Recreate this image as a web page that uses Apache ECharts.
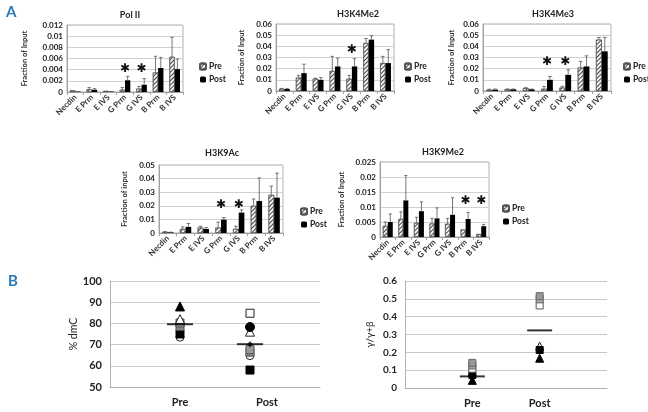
<!DOCTYPE html>
<html><head><meta charset="utf-8">
<script src="https://cdn.jsdelivr.net/npm/echarts@6/dist/echarts.min.js"></script>
<style>html,body{margin:0;padding:0;background:#fff}#c{width:648px;height:412px}</style>
</head><body><div id="c"></div>
<script>
// ---------- DATA ----------
const categories = ['Necdin','E Prm','E IVS','G Prm','G IVS','B Prm','B IVS'];
const panelTitles = ['Pol II','H3K4Me2','H3K4Me3','H3K9Ac','H3K9Me2'];
const yNames = ['Fraction of Input','Fraction of Input','Fraction of Input','Fraction of input','Fraction of Input'];
const yMax = [0.012, 0.06, 0.06, 0.05, 0.025];
const yStep = [0.002, 0.01, 0.01, 0.01, 0.005];

const polPre      = [0.0003,0.0005,0.0002,0.0004,0.0006,0.0035,0.0063];
const polPreErr   = [0,     0.0003,0,     0.0004,0.0004,0.0029,0.0035];
const polPost     = [0.0001,0.0004,0.0001,0.0021,0.0013,0.0043,0.0041];
const polPostErr  = [0,     0.0002,0,     0.0007,0.0011,0.0019,0.0018];
const polStars    = [null,null,null,0.0041,0.0041,null,null];

const k4m2Pre     = [0.002,0.012,0.011,0.018,0.011,0.043,0.025];
const k4m2PreErr  = [0.0003,0.002,0.0005,0.013,0.003,0.004,0.006];
const k4m2Post    = [0.0018,0.016,0.010,0.022,0.022,0.046,0.025];
const k4m2PostErr = [0.0003,0.008,0.002,0.0075,0.007,0.0035,0.012];
const k4m2Stars   = [null,null,null,null,0.037,null,null];

const k4m3Pre     = [0.001,0.0015,0.0025,0.002,0.003,0.021,0.046];
const k4m3PreErr  = [0.0006,0.0004,0.0005,0.002,0.0012,0.0055,0.002];
const k4m3Post    = [0.0012,0.0015,0.0015,0.010,0.0145,0.022,0.0355];
const k4m3PostErr = [0.0006,0.0003,0.0003,0.003,0.0045,0.0095,0.0125];
const k4m3Stars   = [null,null,null,0.026,0.026,null,null];

const k9acPre     = [0.0008,0.003,0.004,0.004,0.003,0.020,0.028];
const k9acPreErr  = [0.0002,0.0015,0.001,0.004,0.002,0.005,0.0065];
const k9acPost    = [0.0005,0.0045,0.003,0.0098,0.015,0.0235,0.026];
const k9acPostErr = [0.0001,0.0025,0.001,0.0015,0.002,0.017,0.018];
const k9acStars   = [null,null,null,0.0205,0.021,null,null];

const k9m2Pre     = [0.0037,0.006,0.0047,0.0045,0.0044,0.0025,0.001];
const k9m2PreErr  = [0.0013,0.0024,0.0019,0.0017,0.0018,0,0];
const k9m2Post    = [0.005,0.0122,0.0086,0.0062,0.0074,0.006,0.0036];
const k9m2PostErr = [0.0027,0.0083,0.0031,0.0035,0.0057,0.0022,0.0006];
const k9m2Stars   = [null,null,null,null,null,0.0121,0.0121];

// Panel B: per-subject values at [Pre, Post]
const groupLabels = ['Pre','Post'];
const dmcFilledTri  = [88, null];
const dmcOpenTri    = [82, 76.1];
const dmcGraySq1    = [80.2, 67.6];
const dmcGraySq2    = [78.6, 66.4];
const dmcFilledSq   = [75, 58];
const dmcOpenCirc   = [73.5, 64.8];
const dmcFilledCirc = [null, 78.3];
const dmcOpenSq     = [null, 84.8];
const dmcMean       = [79.6, 70.2];

const gamGraySq1    = [0.141, 0.515];
const gamGraySq2    = [0.126, 0.497];
const gamOpenSq     = [0.108, 0.463];
const gamOpenTri    = [0.09, 0.235];
const gamFilledSq   = [0.073, 0.213];
const gamFilledTri  = [0.043, 0.167];
const gamMean       = [0.065, 0.323];

// ---------- BUILD ----------
const FONT = 'Lato';
const barSets = [
  [polPre,polPreErr,polPost,polPostErr,polStars],
  [k4m2Pre,k4m2PreErr,k4m2Post,k4m2PostErr,k4m2Stars],
  [k4m3Pre,k4m3PreErr,k4m3Post,k4m3PostErr,k4m3Stars],
  [k9acPre,k9acPreErr,k9acPost,k9acPostErr,k9acStars],
  [k9m2Pre,k9m2PreErr,k9m2Post,k9m2PostErr,k9m2Stars]
];
const barGrids = [
  {left:67, top:25, width:116, height:67},
  {left:276,top:24, width:118, height:67},
  {left:483,top:24, width:128, height:67},
  {left:159,top:165,width:124, height:68},
  {left:380,top:162,width:109, height:75}
];
const yNameGaps = [30, 22, 19, 22, 26];
const legendPos = [[194,57],[399,57],[618,57],[295,202],[497,199]];
const titlePos = [[125,6],[353,5],[548,5],[217,144],[438,143]];

const hatch = {
  symbol:'rect', color:'#444', dashArrayX:[1,0], dashArrayY:[0.9,1.6], rotation:-Math.PI/4
};

const grid=[], xAxis=[], yAxis=[], series=[], legend=[], title=[];

function errSeries(gi, vals, errs, side){
  return {
    type:'custom', name:'err', xAxisIndex:gi, yAxisIndex:gi, z:5, silent:true,
    data: vals.map((v,i)=>[i, v, v+errs[i], errs[i]]),
    renderItem(params, api){
      if (!(api.value(3) > 0)) return null;
      const band = api.size([1,0])[0];
      const x = api.coord([api.value(0), 0])[0] + side*band*0.16;
      const y0 = api.coord([api.value(0), api.value(1)])[1];
      const y1 = api.coord([api.value(0), api.value(2)])[1];
      const cap = band*0.1;
      return {type:'group', children:[
        {type:'line', shape:{x1:x,y1:y0,x2:x,y2:y1}, style:{stroke:'#555',lineWidth:0.8}},
        {type:'line', shape:{x1:x-cap,y1:y1,x2:x+cap,y2:y1}, style:{stroke:'#555',lineWidth:0.8}}
      ]};
    }
  };
}
function starSeries(gi, stars){
  return {
    type:'custom', name:'star', xAxisIndex:gi, yAxisIndex:gi, z:6, silent:true,
    data: stars.map((v,i)=>[i, v]).filter(d=>d[1]!=null),
    renderItem(params, api){
      const p = api.coord([api.value(0), api.value(1)]);
      return {type:'text', x:p[0], y:p[1], style:{text:'✱', fill:'#111', fontSize:12, fontFamily:'DejaVu Sans', align:'center', verticalAlign:'middle'}};
    }
  };
}

barSets.forEach((set, gi)=>{
  grid.push(Object.assign({show:true, borderColor:'#b0b0b0', borderWidth:1, containLabel:false}, barGrids[gi]));
  xAxis.push({
    gridIndex:gi, type:'category', data:categories,
    axisLine:{lineStyle:{color:'#a0a0a0'}},
    axisTick:{show:true, length:3, lineStyle:{color:'#a0a0a0'}},
    axisLabel:{rotate:45, fontSize:8, fontWeight:'bold', color:'#333', fontFamily:FONT, margin:4, interval:0}
  });
  yAxis.push({
    gridIndex:gi, type:'value', min:0, max:yMax[gi], interval:yStep[gi],
    name:yNames[gi], nameLocation:'middle', nameGap:yNameGaps[gi] + 8, nameRotate:90,
    nameTextStyle:{fontSize:7.5, fontWeight:'bold', color:'#333', fontFamily:FONT},
    axisLine:{show:true, lineStyle:{color:'#a0a0a0'}},
    axisTick:{show:false},
    splitLine:{lineStyle:{color:'#d0d0d0', width:1}},
    axisLabel:{fontSize:8, fontWeight:'bold', color:'#222', fontFamily:FONT, margin:4}
  });
  series.push({
    type:'bar', name:'Pre', xAxisIndex:gi, yAxisIndex:gi, data:set[0],
    barGap:'0%', barCategoryGap:'36%',
    itemStyle:{color:'#f4f4f4', borderColor:'#555', borderWidth:0.6, decal:hatch}
  });
  series.push({
    type:'bar', name:'Post', xAxisIndex:gi, yAxisIndex:gi, data:set[2],
    barGap:'0%', barCategoryGap:'36%',
    itemStyle:{color:'#000'}
  });
  series.push(errSeries(gi, set[0], set[1], -1));
  series.push(errSeries(gi, set[2], set[3], 1));
  series.push(starSeries(gi, set[4]));
  legend.push({
    data:['Pre','Post'], orient:'vertical', left:legendPos[gi][0], top:legendPos[gi][1],
    itemWidth:6, itemHeight:6, itemGap:4, selectedMode:false,
    textStyle:{fontSize:8.5, fontWeight:'bold', color:'#222', fontFamily:FONT, padding:[0,0,0,-2]}
  });
  title.push({
    text:panelTitles[gi], left:titlePos[gi][0], top:titlePos[gi][1], textAlign:'center',
    textStyle:{fontSize:9, fontWeight:'bold', color:'#222', fontFamily:FONT}
  });
});

// Panel B grids
const bGrids = [
  {left:110, top:281, width:210, height:106},
  {left:405, top:281, width:202, height:107}
];
const bY = [
  {min:50, max:100, interval:10, name:'% dmC', gap:30, fs:10.5},
  {min:0, max:0.6, interval:0.1, name:'γ/γ+β', gap:30, fs:10}
];
bGrids.forEach((g, k)=>{
  const gi = 5 + k;
  grid.push(Object.assign({show:false}, g));
  xAxis.push({
    gridIndex:gi, type:'value', min:0, max:3, interval:1,
    axisLine:{show:true, lineStyle:{color:'#b0b0b0'}}, axisTick:{show:false}, splitLine:{show:false},
    axisLabel:{
      fontSize:11, fontWeight:'bold', color:'#222', fontFamily:FONT, margin:10,
      formatter:(v)=> v===1 ? groupLabels[0] : (v===2 ? (k===0 ? '{sh|'+groupLabels[1]+'}' : groupLabels[1]) : ''),
      rich:{sh:{fontSize:11, fontWeight:'bold', color:'#222', fontFamily:FONT, padding:[0,0,0,34]}}
    }
  });
  yAxis.push({
    gridIndex:gi, type:'value', min:bY[k].min, max:bY[k].max, interval:bY[k].interval,
    name:bY[k].name, nameLocation:'middle', nameGap:bY[k].gap, nameRotate:90,
    nameTextStyle:{fontSize:bY[k].fs, color:'#222', fontFamily:FONT},
    axisLine:{show:true, lineStyle:{color:'#b0b0b0'}}, axisTick:{show:false},
    splitLine:{lineStyle:{color:'#c8c8c8'}},
    axisLabel:{fontSize:k===0?11:10, fontWeight:'bold', color:'#222', fontFamily:FONT, margin:8}
  });
});

function subj(gi, vals, symbol, size, fill, stroke){
  return {
    type:'scatter', name:'subj', xAxisIndex:gi, yAxisIndex:gi, symbol, symbolSize:size, z:4, silent:true,
    data: vals.map((v,i)=> v==null ? null : [i+1, v]).filter(d=>d),
    itemStyle:{color:fill, borderColor:stroke, borderWidth:1, opacity:1}
  };
}
function meanLine(gi, vals, w, h){
  return {
    type:'scatter', name:'mean', xAxisIndex:gi, yAxisIndex:gi, symbol:'rect', z:6, silent:true,
    symbolSize:[w,h], data: vals.map((v,i)=>[i+1, v]), itemStyle:{color:'#000'}
  };
}
// left B
series.push(subj(5, dmcOpenCirc, 'circle', 8, '#fff', '#222'));
series.push(subj(5, dmcFilledSq, 'rect', 8, '#000', '#000'));
series.push(subj(5, dmcGraySq2, 'rect', 8, '#888', '#555'));
series.push(subj(5, dmcGraySq1, 'rect', 8, '#999', '#555'));
series.push(subj(5, dmcOpenTri, 'triangle', 9, '#fff', '#222'));
series.push(subj(5, dmcFilledTri, 'triangle', 9, '#000', '#000'));
series.push(subj(5, dmcFilledCirc, 'circle', 9, '#000', '#000'));
series.push(subj(5, dmcOpenSq, 'rect', 8, '#fff', '#222'));
series.push(meanLine(5, dmcMean, 26, 2));
series.push({
  type:'scatter', name:'meanpt', xAxisIndex:5, yAxisIndex:5, symbol:'diamond', symbolSize:6, z:7, silent:true,
  data:[[2, dmcMean[1]]], itemStyle:{color:'#000'}
});
// right B
series.push(subj(6, gamFilledTri, 'triangle', 8, '#000', '#000'));
series.push(subj(6, gamOpenTri, 'triangle', 8, '#fff', '#222'));
series.push(subj(6, gamFilledSq, 'rect', 7, '#000', '#000'));
series.push(subj(6, gamOpenSq, 'rect', 7, '#fff', '#555'));
series.push(subj(6, gamGraySq2, 'rect', 7, '#aaa', '#666'));
series.push(subj(6, gamGraySq1, 'rect', 7, '#999', '#666'));
series.push(meanLine(6, gamMean, 25, 2));

const chart = echarts.init(document.getElementById('c'), null, {renderer:'canvas'});
chart.setOption({
  backgroundColor:'#fff',
  animation:false,
  title: title,
  legend: legend,
  grid, xAxis, yAxis, series,
  graphic:[
    {type:'text', left:6, top:5, style:{text:'A', fontSize:15, fontWeight:'bold', fill:'#2a78b4', fontFamily:'Liberation Sans Narrow, '+FONT}},
    {type:'text', left:8, top:274, style:{text:'B', fontSize:15, fontWeight:'bold', fill:'#2a78b4', fontFamily:'Liberation Sans Narrow, '+FONT}}
  ]
});
</script>
</body></html>
